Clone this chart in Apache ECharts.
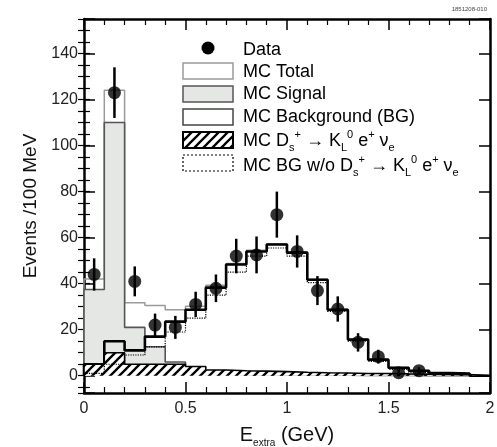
<!DOCTYPE html>
<html><head><meta charset="utf-8">
<script src="https://cdn.jsdelivr.net/npm/echarts@6/dist/echarts.min.js"></script>
<style>html,body{margin:0;padding:0;background:#fff}#c{width:497px;height:447px}</style>
</head><body><div id="c"></div>
<script>
// ---- data ----
const binEdges = [0,0.1,0.2,0.3,0.4,0.5,0.6,0.7,0.8,0.9,1.0,1.1,1.2,1.3,1.4,1.5,1.6,1.7,1.8,1.9,2.0];
const mcTotal      = [42, 124, 31.7, 30.5, 28.7, 30.2, 39.3, 48.8, 54.5, 57.3, 53.8, 41.9, 28.9, 15.8, 7.1, 3.6, 2.2, 1.2, 0.9, 0];
const mcSignal     = [37.5, 110, 21, 12.6, 6, 1.5, 1, 0.5, 0.5, 0.3, 0.3, 0.2, 0.2, 0.1, 0.1, 0.1, 0, 0, 0, 0];
const mcBackground = [5, 15, 11, 17, 23.5, 28.7, 38.3, 48.3, 54, 57, 53.5, 41.7, 28.7, 15.7, 7, 3.5, 2.2, 1.2, 0.9, 0];
const mcDsKLenu    = [5, 10, 5, 5, 5, 4, 2.5, 2.2, 2, 1.8, 1.5, 1.3, 1.2, 1, 1, 0.8, 0.7, 0.6, 0.5, 0];
const mcBgWithout  = [1, 5, 9, 12.5, 19, 25, 35, 45, 52, 55.5, 52, 40.5, 28, 15, 6.2, 2.8, 1.5, 0.6, 0.4, 0];
const dataX   = [0.05,0.15,0.25,0.35,0.45,0.55,0.65,0.75,0.85,0.95,1.05,1.15,1.25,1.35,1.45,1.55,1.65];
const dataY   = [44, 123, 41, 22, 21, 31, 38, 52, 52.5, 70, 54, 37, 29, 14.5, 8.3, 1.3, 2.2];
const dataErr = [7, 11, 6.5, 5, 5, 5.5, 6, 7.5, 8, 10, 7, 6.3, 5.5, 4, 3, 1.5, 1.5];
const yTickLabels = [0, 20, 40, 60, 80, 100, 120, 140];
const xTickLabels = ['0', '0.5', '1', '1.5', '2'];

function steps(vals) {
  const pts = [[binEdges[0], 0]];
  for (let i = 0; i < vals.length; i++) {
    pts.push([binEdges[i], vals[i]], [binEdges[i + 1], vals[i]]);
  }
  pts.push([binEdges[vals.length], 0]);
  return pts;
}
function hatchCanvas() {
  const s = 9, c = document.createElement('canvas');
  c.width = s; c.height = s;
  const g = c.getContext('2d');
  g.fillStyle = '#fff'; g.fillRect(0, 0, s, s);
  g.strokeStyle = '#000'; g.lineWidth = 2.3; g.beginPath();
  g.moveTo(-1, s + 1); g.lineTo(s + 1, -1);
  g.moveTo(-s / 2 - 1, s / 2 + 1); g.lineTo(s / 2 + 1, -s / 2 - 1);
  g.moveTo(s / 2 - 1, s * 1.5 + 1); g.lineTo(s * 1.5 + 1, s / 2 - 1);
  g.stroke();
  return c;
}
const hatch = hatchCanvas();
const FONT = '"Liberation Sans", Arial, Helvetica, sans-serif';

const chart = echarts.init(document.getElementById('c'), null, {renderer: 'canvas'});
const frame = {show: true, onZero: false, lineStyle: {color: '#000', width: 2.5}};
const yBase = {type: 'value', min: -7.5, max: 155, splitLine: {show: false}};
const xBase = {type: 'value', min: 0, max: 2, interval: 0.5, splitLine: {show: false}};

const histLine = (name, vals, lineStyle, areaStyle, z) => ({
  name, type: 'line', data: steps(vals), symbol: 'none', showSymbol: false,
  lineStyle, areaStyle, z, animation: false, silent: true
});

const legendRows = [50, 72, 94, 117, 141, 166];
const rich = {
  n: {fontSize: 18, fontFamily: FONT, color: '#111', lineHeight: 24},
  sb: {fontSize: 11, fontFamily: FONT, color: '#111', verticalAlign: 'bottom', lineHeight: 24},
  sp: {fontSize: 11, fontFamily: FONT, color: '#111', verticalAlign: 'top', lineHeight: 24}
};
const legendTexts = [
  '{n|Data}', '{n|MC Total}', '{n|MC Signal}', '{n|MC Background (BG)}',
  '{n|MC D}{sb|s}{sp|+}{n| → K}{sb|L}{sp|0}{n| e}{sp|+}{n| ν}{sb|e}',
  '{n|MC BG w/o D}{sb|s}{sp|+}{n| → K}{sb|L}{sp|0}{n| e}{sp|+}{n| ν}{sb|e}'
];

chart.setOption({
  animation: false,
  backgroundColor: '#fff',
  grid: {left: 84, right: 7, top: 19, bottom: 54, containLabel: false, outerBoundsMode: 'none'},
  xAxis: [
    Object.assign({}, xBase, {
      position: 'bottom', axisLine: frame,
      axisTick: {show: true, inside: true, length: 11, lineStyle: {color: '#000', width: 1.5}},
      minorTick: {show: true, splitNumber: 5, length: 6, lineStyle: {color: '#000', width: 1.2}},
      axisLabel: {show: true, margin: 8, fontSize: 16, fontFamily: FONT, color: '#222',
        formatter: v => { const i = Math.round(v / 0.5); return xTickLabels[i] !== undefined ? xTickLabels[i] : ''; }},
      name: '{e|E}{s|extra}{e| (GeV)}', nameLocation: 'middle', nameGap: 29,
      nameTextStyle: {rich: {
        e: {fontSize: 20, fontFamily: FONT, color: '#111', lineHeight: 26},
        s: {fontSize: 10, fontFamily: FONT, color: '#111', verticalAlign: 'bottom', lineHeight: 26}
      }}
    }),
    Object.assign({}, xBase, {
      position: 'top', axisLine: frame,
      axisTick: {show: true, inside: true, length: 11, lineStyle: {color: '#000', width: 1.5}},
      minorTick: {show: true, splitNumber: 5, length: 6, lineStyle: {color: '#000', width: 1.2}},
      axisLabel: {show: false}
    })
  ],
  yAxis: [
    Object.assign({}, yBase, {
      position: 'left', minInterval: 20, maxInterval: 20, axisLine: frame,
      axisTick: {show: true, inside: true, length: 11, lineStyle: {color: '#000', width: 1.5}},
      axisLabel: {show: true, margin: 6, fontSize: 16, fontFamily: FONT, color: '#222',
        formatter: v => yTickLabels.indexOf(Math.round(v)) >= 0 && Math.abs(v - Math.round(v)) < 1e-6 ? String(Math.round(v)) : ''},
      name: 'Events /100 MeV', nameLocation: 'middle', nameGap: 40,
      nameTextStyle: {fontSize: 19, fontFamily: FONT, color: '#111'}
    }),
    Object.assign({}, yBase, {
      position: 'left', minInterval: 5, maxInterval: 5, axisLine: {show: false},
      axisTick: {show: true, inside: true, length: 6, lineStyle: {color: '#000', width: 1.2}},
      axisLabel: {show: false}
    }),
    Object.assign({}, yBase, {
      position: 'right', minInterval: 20, maxInterval: 20, axisLine: frame,
      axisTick: {show: true, inside: true, length: 11, lineStyle: {color: '#000', width: 1.5}},
      axisLabel: {show: false}
    }),
    Object.assign({}, yBase, {
      position: 'right', minInterval: 5, maxInterval: 5, axisLine: {show: false},
      axisTick: {show: true, inside: true, length: 6, lineStyle: {color: '#000', width: 1.2}},
      axisLabel: {show: false}
    })
  ],
  series: [
    histLine('MC Total', mcTotal, {color: '#9a9a9a', width: 1.5}, null, 2),
    histLine('MC Signal', mcSignal, {color: '#555', width: 1.6}, {color: '#e4e7e4', opacity: 1, origin: 'auto'}, 3),
    histLine('MC Background (BG)', mcBackground, {color: '#000', width: 2.6}, null, 4),
    histLine('MC Ds KL e nu', mcDsKLenu, {color: '#000', width: 1.6}, {color: {image: hatch, repeat: 'repeat'}, opacity: 1, origin: 'auto'}, 5),
    histLine('MC BG w/o', mcBgWithout, {color: '#000', width: 1.2, type: 'dotted'}, null, 6),
    {
      name: 'errors', type: 'custom', z: 7, animation: false, silent: true,
      data: dataX.map((x, i) => [x, dataY[i], dataErr[i]]),
      encode: {x: 0, y: 1},
      renderItem: (params, api) => {
        const x = api.value(0), y = api.value(1), e = api.value(2);
        const a = api.coord([x, y + e]), b = api.coord([x, y - e]);
        return {type: 'line', shape: {x1: a[0], y1: a[1], x2: b[0], y2: b[1]},
          style: {stroke: '#000', lineWidth: 2.5}};
      }
    },
    {
      name: 'Data', type: 'scatter', z: 8, animation: false, silent: true,
      data: dataX.map((x, i) => [x, dataY[i]]),
      symbol: 'circle', symbolSize: 13, itemStyle: {color: '#000'}
    }
  ],
  graphic: [
    {type: 'circle', shape: {cx: 208, cy: 48, r: 6.5}, style: {fill: '#000'}},
    {type: 'rect', shape: {x: 183, y: 63, width: 50, height: 16}, style: {fill: '#fff', stroke: '#999', lineWidth: 1.5}},
    {type: 'rect', shape: {x: 183, y: 86, width: 50, height: 16}, style: {fill: '#e4e7e4', stroke: '#555', lineWidth: 1.5}},
    {type: 'rect', shape: {x: 183, y: 109, width: 50, height: 16}, style: {fill: '#fff', stroke: '#444', lineWidth: 1.5}},
    {type: 'rect', shape: {x: 183, y: 132, width: 50, height: 16}, style: {fill: {image: hatch, repeat: 'repeat'}, stroke: '#000', lineWidth: 2}},
    {type: 'rect', shape: {x: 183, y: 155, width: 50, height: 16}, style: {fill: '#fff', stroke: '#000', lineWidth: 1.2, lineDash: [2, 2]}},
    ...legendTexts.map((t, i) => ({
      type: 'text', x: 243, y: legendRows[i],
      style: {text: t, rich, verticalAlign: 'middle', align: 'left'}
    })),
    {type: 'text', right: 10, top: 6, style: {text: '1851208-010', fontSize: 6, fontFamily: FONT, fill: '#444'}}
  ]
});
</script>
</body></html>
